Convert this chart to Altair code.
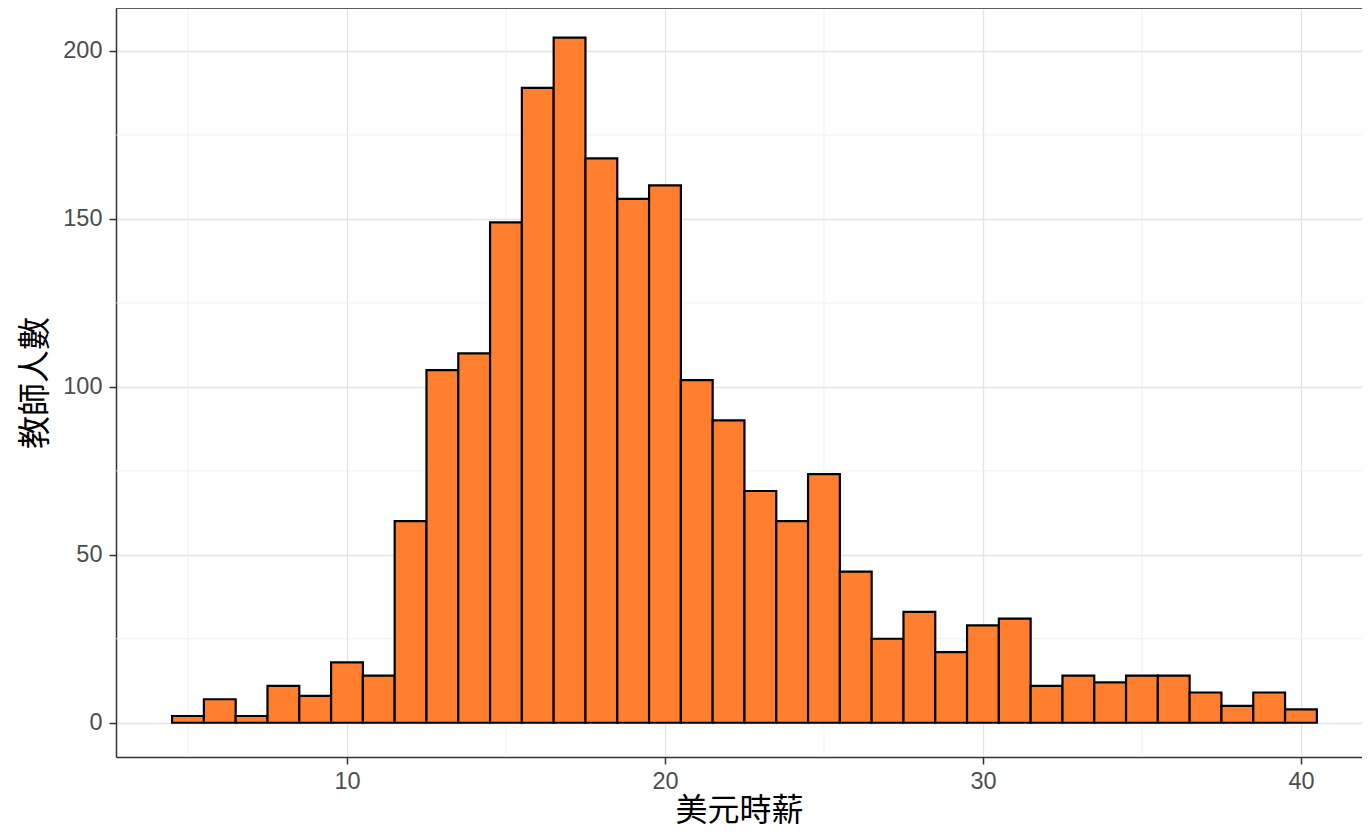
import altair as alt
import pandas as pd

# Histogram bins (binwidth 1), centered at these hourly wages
bin_centers = [5, 6, 7, 8, 9, 10, 11, 12, 13, 14, 15, 16, 17, 18, 19, 20,
               21, 22, 23, 24, 25, 26, 27, 28, 29, 30, 31, 32, 33, 34, 35,
               36, 37, 38, 39, 40]
counts = [2, 7, 2, 11, 8, 18, 14, 60, 105, 110, 149, 189, 204, 168, 156, 160,
          102, 90, 69, 60, 74, 45, 25, 33, 21, 29, 31, 11, 14, 12, 14,
          14, 9, 5, 9, 4]
bin_width = 1.0

x_major = [10, 20, 30, 40]
x_minor = [5, 15, 25, 35]
y_major = [0, 50, 100, 150, 200]
y_minor = [25, 75, 125, 175]

df = pd.DataFrame({"center": bin_centers, "count": counts})
df["x0"] = df["center"] - bin_width / 2
df["x1"] = df["center"] + bin_width / 2

W, H = 1246, 749
xdom = [2.736, 41.92]
ydom = [-10.2, 212.8]

xscale = alt.Scale(domain=xdom, nice=False, zero=False)
yscale = alt.Scale(domain=ydom, nice=False, zero=False)

LABEL_FONT = "Liberation Sans"
CJK_FONT = "Noto Sans CJK TC"

xaxis = alt.Axis(values=x_major, title="美元時薪", labelFontSize=23.5,
                 labelColor="#4D4D4D", labelFont=LABEL_FONT, tickSize=7,
                 tickColor="#333333", tickWidth=1.5, labelPadding=5,
                 domainColor="#333333", domainWidth=1.5,
                 gridColor="#E3E3E3", gridWidth=1.3,
                 titleFont=CJK_FONT, titleFontSize=32, titleFontWeight="normal",
                 titleColor="#000000", titlePadding=3)
yaxis = alt.Axis(values=y_major, title="教師人數", labelFontSize=23.5,
                 labelColor="#4D4D4D", labelFont=LABEL_FONT, tickSize=7,
                 tickColor="#333333", tickWidth=1.5, labelPadding=7,
                 domainColor="#333333", domainWidth=1.5,
                 gridColor="#E3E3E3", gridWidth=1.3,
                 titleFont=CJK_FONT, titleFontSize=33, titleFontWeight="normal",
                 titleColor="#000000", titlePadding=10)

vminor = alt.Chart(pd.DataFrame({"v": x_minor})).mark_rule(
    color="#EFEFEF", strokeWidth=0.8).encode(
    x=alt.X("v:Q", scale=xscale, axis=xaxis, title="美元時薪"))
hminor = alt.Chart(pd.DataFrame({"v": y_minor})).mark_rule(
    color="#EFEFEF", strokeWidth=0.8).encode(
    y=alt.Y("v:Q", scale=yscale, axis=yaxis, title="教師人數"))

bars = alt.Chart(df).mark_rect(fill="#FF7F2F", stroke="#000000", strokeWidth=2.2).encode(
    x=alt.X("x0:Q", scale=xscale, axis=xaxis, title="美元時薪"),
    x2="x1:Q",
    y=alt.Y("count:Q", scale=yscale, axis=yaxis, title="教師人數"),
    y2=alt.datum(0),
)

top_border = alt.Chart(pd.DataFrame({"a": [0]})).mark_rule(
    color="#333333", strokeWidth=1.5).encode(y=alt.value(0))

chart = alt.layer(vminor, hminor, bars, top_border).properties(
    width=W, height=H,
    autosize=alt.AutoSizeParams(type="none"),
    padding={"left": 108, "top": 0, "right": 0, "bottom": 72},
).configure_view(stroke=None).configure(background="white")

chart.save("out.html", embed_options={"renderer": "svg", "actions": False})
